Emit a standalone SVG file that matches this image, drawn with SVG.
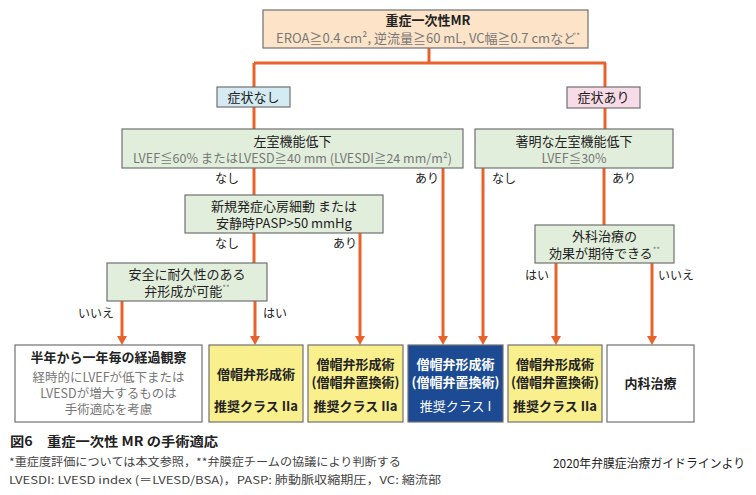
<svg xmlns="http://www.w3.org/2000/svg" width="756" height="495" viewBox="0 0 756 495">
<defs>
<style>
text{font-family:"Noto Sans CJK JP","Noto Sans",sans-serif;fill:#222;}
.t{font-size:13px;text-anchor:middle;}
.s{font-size:12.5px;}
.b{font-weight:bold;}
.g{fill:#777;}
.lbl{font-size:12px;}
.box{stroke:#707070;stroke-width:1.2;}
.green{fill:#e2eedc;}
.yellow{fill:#f9ef8c;}
.white{fill:#ffffff;}
.blue{fill:#1c4a93;}
.wt{fill:#ffffff;}
.con path{fill:none;stroke:#e8622a;stroke-width:3;}
.cap{font-size:11px;fill:#444;}
</style>
<marker id="ah" markerUnits="userSpaceOnUse" markerWidth="12" markerHeight="10" refX="0" refY="5" orient="auto">
<path d="M0,0 L9,5 L0,10 z" fill="#e8622a"/>
</marker>
</defs>
<rect width="756" height="495" fill="#ffffff"/>

<g class="con" id="connectors">
<path d="M429,48 V63"/>
<path d="M254,63 H606"/>
<path d="M254,63 V87"/>
<path d="M605,63 V87"/>
<path d="M254,107 V129"/>
<path d="M605,108 V129"/>
<path d="M254,168 V195"/>
<path d="M443,168 V336" marker-end="url(#ah)"/>
<path d="M483,168 V336" marker-end="url(#ah)"/>
<path d="M604,168 V225"/>
<path d="M254,233 V263"/>
<path d="M360,233 V336" marker-end="url(#ah)"/>
<path d="M122,301 V336" marker-end="url(#ah)"/>
<path d="M255,301 V336" marker-end="url(#ah)"/>
<path d="M556,263 V336" marker-end="url(#ah)"/>
<path d="M652,263 V336" marker-end="url(#ah)"/>
</g>

<g id="top">
<rect class="box" x="263" y="10" width="325" height="38" fill="#fde4c8"/>
<text class="t b" x="428" y="25">重症一次性MR</text>
<text class="t g" x="428" y="43">EROA≧0.4 cm², 逆流量≧60 mL, VC幅≧0.7 cmなど<tspan font-size="8" dy="-4">*</tspan></text>
</g>

<g id="nosym">
<rect class="box" x="217" y="87" width="73" height="20" fill="#d4ebf3"/>
<text class="t" x="253.5" y="102">症状なし</text>
</g>
<g id="sym">
<rect class="box" x="567" y="87" width="73" height="21" fill="#f7dce7"/>
<text class="t" x="603.5" y="102">症状あり</text>
</g>

<g id="lvdys">
<rect class="box green" x="122" y="129" width="341" height="39"/>
<text class="t" x="292.5" y="146">左室機能低下</text>
<text class="t s g" x="292.5" y="163">LVEF≦60% またはLVESD≧40 mm (LVESDI≧24 mm/m²)</text>
</g>
<g id="lvsevere">
<rect class="box green" x="475" y="129" width="198" height="39"/>
<text class="t" x="574" y="146">著明な左室機能低下</text>
<text class="t s g" x="574" y="163">LVEF≦30%</text>
</g>
<g id="af">
<rect class="box green" x="185" y="195" width="198" height="38"/>
<text class="t" x="284" y="211">新規発症心房細動 または</text>
<text class="t" x="284" y="228">安静時PASP&gt;50 mmHg</text>
</g>
<g id="repair">
<rect class="box green" x="107" y="263" width="160" height="38"/>
<text class="t" x="187" y="279">安全に耐久性のある</text>
<text class="t" x="187" y="296">弁形成が可能<tspan class="g" font-size="8" dy="-5">**</tspan></text>
</g>
<g id="surg">
<rect class="box green" x="535" y="225" width="139" height="38"/>
<text class="t" x="604.5" y="241">外科治療の</text>
<text class="t" x="604.5" y="258">効果が期待できる<tspan class="g" font-size="8" dy="-5">**</tspan></text>
</g>

<g id="labels" class="lbl">
<text x="215" y="183">なし</text>
<text x="415" y="183">あり</text>
<text x="492" y="183">なし</text>
<text x="612" y="183">あり</text>
<text x="215" y="248">なし</text>
<text x="333" y="248">あり</text>
<text x="78" y="318">いいえ</text>
<text x="263" y="318">はい</text>
<text x="525" y="280">はい</text>
<text x="658" y="280">いいえ</text>
</g>

<g id="observe">
<rect class="box white" x="15" y="345" width="187" height="77"/>
<text class="t b" x="108.5" y="362">半年から一年毎の経過観察</text>
<text class="t s g" x="108.5" y="382">経時的にLVEFが低下または</text>
<text class="t s g" x="108.5" y="398">LVESDが増大するものは</text>
<text class="t s g" x="108.5" y="414">手術適応を考慮</text>
</g>
<g id="y1">
<rect class="box yellow" x="209" y="345" width="94" height="77"/>
<text class="t b" x="256" y="379">僧帽弁形成術</text>
<text class="t b" x="256" y="411">推奨クラス IIa</text>
</g>
<g id="y2">
<rect class="box yellow" x="308" y="345" width="95" height="77"/>
<text class="t b" x="355.5" y="369">僧帽弁形成術</text>
<text class="t b" x="355.5" y="387">(僧帽弁置換術)</text>
<text class="t b" x="355.5" y="411">推奨クラス IIa</text>
</g>
<g id="blue">
<rect class="box blue" x="408" y="345" width="95" height="77"/>
<text class="t b wt" x="455.5" y="369">僧帽弁形成術</text>
<text class="t b wt" x="455.5" y="387">(僧帽弁置換術)</text>
<text class="t wt" x="455.5" y="411">推奨クラス I</text>
</g>
<g id="y3">
<rect class="box yellow" x="508" y="345" width="94" height="77"/>
<text class="t b" x="555" y="369">僧帽弁形成術</text>
<text class="t b" x="555" y="387">(僧帽弁置換術)</text>
<text class="t b" x="555" y="411">推奨クラス IIa</text>
</g>
<g id="medical">
<rect class="box white" x="607" y="345" width="87" height="77"/>
<text class="t b" x="650.5" y="388">内科治療</text>
</g>

<g id="caption">
<text x="10" y="446" font-size="13" font-weight="bold" textLength="208" lengthAdjust="spacingAndGlyphs">図6　重症一次性 MR の手術適応</text>
<text class="cap" x="9" y="466" textLength="392" lengthAdjust="spacingAndGlyphs">*重症度評価については本文参照，**弁膜症チームの協議により判断する</text>
<text class="cap" x="9" y="484" textLength="432" lengthAdjust="spacingAndGlyphs">LVESDI: LVESD index (＝LVESD/BSA)，PASP: 肺動脈収縮期圧，VC: 縮流部</text>
<text x="553" y="468" font-size="12" textLength="192" lengthAdjust="spacingAndGlyphs">2020年弁膜症治療ガイドラインより</text>
</g>
</svg>
